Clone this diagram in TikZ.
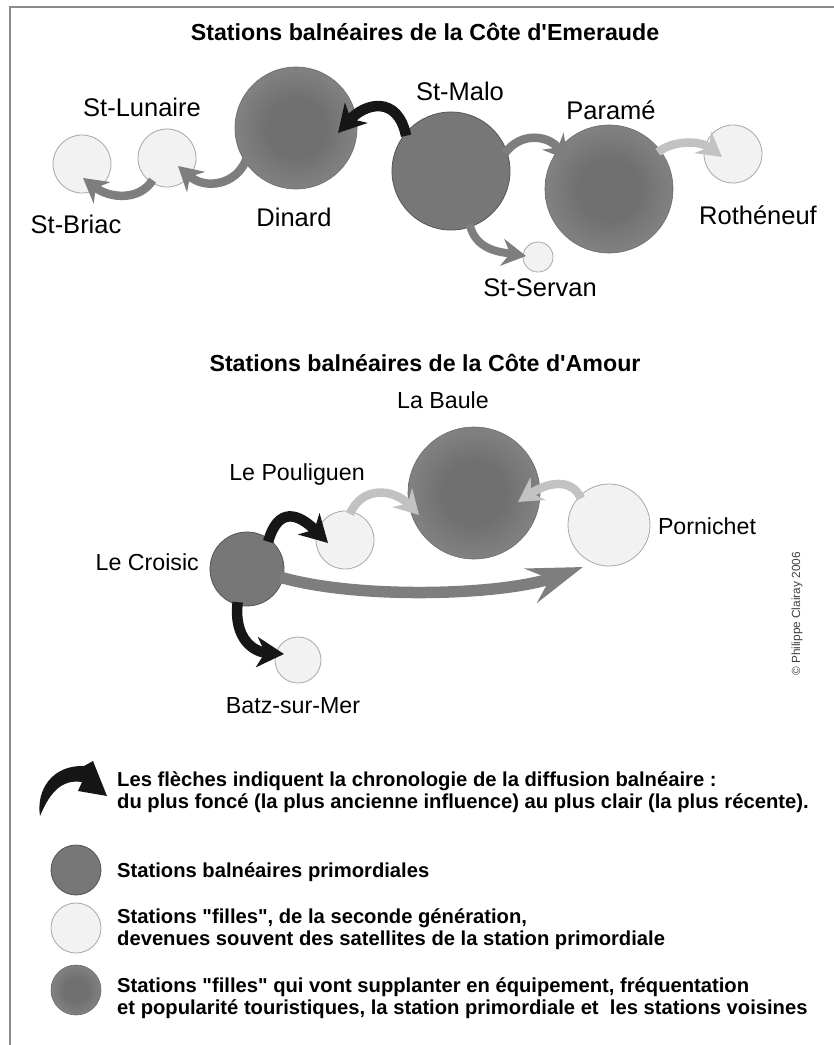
\documentclass[tikz,border=0pt]{standalone}
\usepackage{fontspec}
\setmainfont{Liberation Sans}
\usetikzlibrary{arrows.meta}
\definecolor{primc}{HTML}{777777}
\definecolor{primd}{HTML}{555555}
\definecolor{supin}{HTML}{707070}
\definecolor{supout}{HTML}{A4A4A4}
\definecolor{supd}{HTML}{6A6A6A}
\definecolor{lightc}{HTML}{F2F2F2}
\definecolor{lightd}{HTML}{A8A8A8}
\definecolor{arrK}{HTML}{161616}
\definecolor{arrM}{HTML}{7E7E7E}
\definecolor{arrL}{HTML}{C2C2C2}
\definecolor{framec}{HTML}{8C8C8C}
\pgfdeclareradialshading{supshade}{\pgfpoint{0bp}{0bp}}{color(0bp)=(supin); color(12bp)=(supin); color(50bp)=(supout); color(100bp)=(supout)}
\begin{document}
\begin{tikzpicture}[x=1pt,y=1pt,
  prim/.style={circle, fill=primc, draw=primd, line width=0.8pt, inner sep=0pt},
  fille/.style={circle, fill=lightc, draw=lightd, line width=0.8pt, inner sep=0pt},
  supl/.style={circle, shading=supshade, draw=supd, line width=0.6pt, inner sep=0pt},
  lab/.style={font=\fontsize{25.5}{30}\selectfont, anchor=base, inner sep=0pt},
  labb/.style={font=\fontsize{23.2}{28}\selectfont, anchor=base, inner sep=0pt},
  ttl/.style={font=\bfseries\fontsize{23.2}{28}\selectfont, anchor=base, inner sep=0pt},
  leg/.style={font=\bfseries\fontsize{20.2}{22}\selectfont, anchor=base west, inner sep=0pt},
  ak/.style={draw=arrK, line width=10.5pt, shorten <=-3pt, -{Stealth[length=27pt,width=30pt,inset=8pt]}},
  am/.style={draw=arrM, line width=8.5pt, shorten <=-3pt, -{Stealth[length=24pt,width=27pt,inset=8pt]}},
  al/.style={draw=arrL, line width=8.5pt, shorten <=-3pt, -{Stealth[length=24pt,width=27pt,inset=8pt]}},
  abig/.style={draw=arrM, line width=11.5pt, shorten <=-3pt, -{Stealth[length=55pt,width=36pt,inset=20pt]}}
]
\useasboundingbox (0,0) rectangle (834,-1045);
\fill[white] (0,0) rectangle (834,-1045);
\draw[framec, line width=1.6pt] (10,-1046) -- (10,-7) -- (835,-7);

% ---------- Cote d'Emeraude ----------
\node[ttl] (title1) at (425,-40) {Stations balnéaires de la Côte d\textquotesingle Emeraude};

\node[fille, minimum size=58pt] (briac) at (82,-164) {};
\node[fille, minimum size=58pt] (lunaire) at (167,-158) {};
\node[supl, minimum size=122pt] (dinard) at (296,-128) {};
\node[supl, minimum size=128pt] (parame) at (609,-189) {};
\node[fille, minimum size=58pt] (roth) at (733,-154) {};
\node[fille, minimum size=30pt] (servan) at (538,-257) {};
\node[prim, minimum size=118pt] (malo) at (451,-171) {};

\node[lab] (lunaireL) at (142,-116) {St-Lunaire};
\node[lab] (briacL) at (76,-233) {St-Briac};
\node[lab] (dinardL) at (294,-226) {Dinard};
\node[lab] (maloL) at (460,-100) {St-Malo};
\node[lab] (parameL) at (611,-119.5) {Paramé};
\node[lab] (rothL) at (758,-224) {Rothéneuf};
\node[lab] (servanL) at (540,-296) {St-Servan};

\draw[ak] (malo.140) .. controls +(-8,38) and +(27,30) .. ([xshift=42pt,yshift=-5pt]dinard.center);
\draw[am] (dinard.214) .. controls +(-9,-23) and +(27,-24) .. ([xshift=11pt,yshift=-8pt]lunaire.center);
\draw[am] (lunaire.237) .. controls +(-11,-18) and +(27,-21) .. ([xshift=1pt,yshift=-14pt]briac.center);
\draw[am] (malo.20) .. controls +(14,19) and +(-20,25) .. ([xshift=-41pt,yshift=29pt]parame.center);
\draw[al] (parame.37) .. controls +(12,10) and +(-22,17) .. ([xshift=-11pt,yshift=-3pt]roth.center);
\draw[am, line width=8pt] (malo.289) .. controls +(5,-23) and +(-26,4) .. ([xshift=-12pt,yshift=1pt]servan.center);

% ---------- Cote d'Amour ----------
\node[ttl] (title2) at (425,-371) {Stations balnéaires de la Côte d\textquotesingle Amour};

\node[supl, minimum size=132pt] (baule) at (474,-493) {};
\node[fille, minimum size=58pt] (pouliguen) at (345,-540) {};
\node[fille, minimum size=82pt] (pornichet) at (609,-525) {};
\node[fille, minimum size=46pt] (batz) at (298,-660) {};
\node[prim, minimum size=74pt] (croisic) at (247,-569) {};

\node[labb] (bauleL) at (443,-408) {La Baule};
\node[labb] (pouliguenL) at (297,-480) {Le Pouliguen};
\node[labb] (pornichetL) at (707,-534) {Pornichet};
\node[labb, anchor=base east] (croisicL) at (199,-570) {Le Croisic};
\node[labb] (batzL) at (293,-713) {Batz-sur-Mer};

\draw[ak] (croisic.54) .. controls +(9,32) and +(-30,30) .. ([xshift=-17pt,yshift=-3pt]pouliguen.center);
\draw[al] (pouliguen.78) .. controls +(11,26) and +(-25,26) .. ([xshift=-55pt,yshift=-22pt]baule.center);
\draw[al] (pornichet.135) .. controls +(-8,18) and +(30,20) .. ([xshift=44pt,yshift=-9pt]baule.center);
\draw[abig] (croisic.-14) .. controls +(77,-22) and +(-78,-28) .. ([xshift=-26pt,yshift=-42pt]pornichet.center);
\draw[ak] (croisic.255) .. controls +(-4,-35) and +(-29,2) .. ([xshift=-14pt,yshift=6pt]batz.center);

\node[font=\fontsize{11.8}{14}\selectfont, text=black!75, rotate=90, inner sep=0pt] (copy) at (797,-614) {© Philippe Clairay 2006};

% ---------- Legend ----------
\fill[arrK] (40,-816) .. controls (36,-790) and (52,-765) .. (84,-766)
  -- (93,-761) -- (107,-796) -- (78,-791) -- (82,-782)
  .. controls (62,-779) and (50,-792) .. (40,-816) -- cycle;
\node[leg] (leg1a) at (117,-786) {Les flèches indiquent la chronologie de la diffusion balnéaire :};
\node[leg] (leg1b) at (117,-808) {du plus foncé (la plus ancienne influence) au plus clair (la plus récente).};

\node[prim, minimum size=50pt] (legP) at (76,-870) {};
\node[leg] (leg2) at (117,-877) {Stations balnéaires primordiales};

\node[fille, minimum size=50pt] (legF) at (76,-928) {};
\node[leg] (leg3a) at (117,-923) {Stations \textquotedbl filles\textquotedbl, de la seconde génération,};
\node[leg] (leg3b) at (117,-945) {devenues souvent des satellites de la station primordiale};

\node[supl, minimum size=50pt] (legS) at (76,-990) {};
\node[leg] (leg4a) at (117,-992) {Stations \textquotedbl filles\textquotedbl{} qui vont supplanter en équipement, fréquentation};
\node[leg] (leg4b) at (117,-1014) {et popularité touristiques, la station primordiale et\ \ les stations voisines};
\end{tikzpicture}
\end{document}
